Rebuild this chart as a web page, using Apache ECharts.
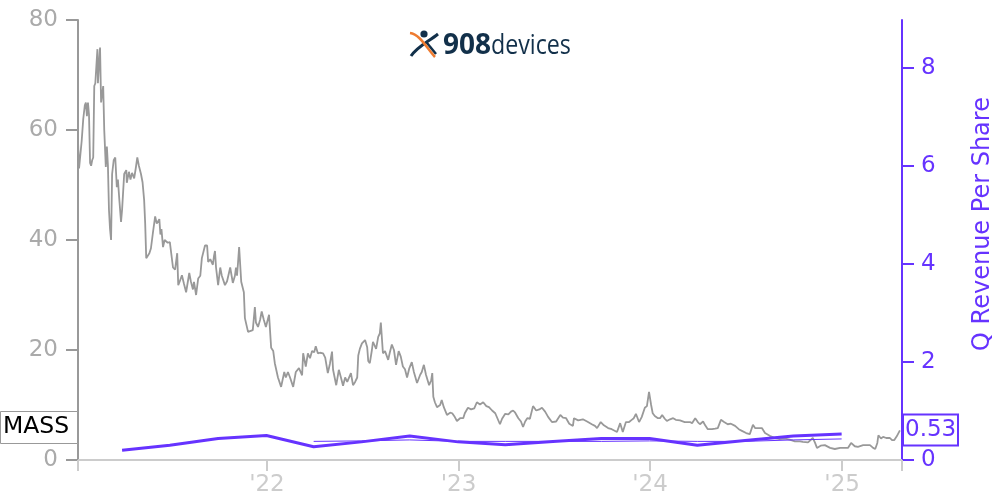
<!DOCTYPE html>
<html>
<head>
<meta charset="utf-8">
<title>MASS</title>
<script src="https://cdn.jsdelivr.net/npm/echarts@6/dist/echarts.min.js"></script>
<style>
  html, body { margin: 0; background: #fff; }
  #chart { width: 1000px; height: 500px; }
</style>
</head>
<body>
<div id="chart"></div>
<script>
const priceDays = [5,7,9,12,15,18,20,22,24,26,28,30,32,34,36,38,41,42,43,45,47,49,53,55,58,60,62,64,66,68,70,73,76,79,81,84,87,89,93,97,98,102,105,108,112,115,118,121,125,128,131,133,135,138,141,144,148,152,155,158,160,162,164,165,167,170,173,176,180,182,186,190,194,196,199,203,207,211,217,220,224,226,230,234,238,241,247,251,253,257,262,264,266,268,272,276,279,285,289,295,300,304,306,308,310,312,316,321,323,329,338,342,344,348,352,355,359,363,369,373,377,380,386,392,398,401,405,409,415,420,426,432,434,439,443,447,451,455,458,462,466,472,476,481,485,489,491,497,502,506,510,514,518,521,525,529,533,537,539,542,546,552,556,558,561,565,567,573,577,580,582,586,590,596,599,603,607,611,616,620,624,628,632,636,641,645,651,657,660,664,668,674,678,680,682,685,689,695,698,702,708,714,718,723,727,733,739,742,748,754,760,765,771,777,783,788,794,800,803,809,813,819,825,830,834,838,844,849,853,857,861,866,872,878,884,889,895,901,908,916,924,929,935,941,948,950,958,967,975,984,990,994,1001,1007,1015,1022,1032,1038,1043,1049,1055,1060,1064,1068,1074,1079,1085,1089,1093,1097,1100,1104,1110,1114,1118,1123,1127,1133,1139,1144,1152,1161,1171,1175,1181,1183,1186,1190,1196,1200,1205,1213,1219,1224,1230,1236,1243,1249,1257,1264,1270,1278,1285,1291,1295,1300,1308,1314,1323,1333,1342,1352,1361,1371,1381,1386,1396,1405,1409,1411,1413,1420,1428,1438,1447,1457,1466,1472,1478,1485,1491,1501,1514,1520,1524,1528,1530,1535,1539,1545,1552,1556,1560,1565,1571];
const priceValues = [58,53,55,58,62,64.5,65,62.5,65,62.7,54,53.5,54.5,55,68,68.5,68.7,74.7,68.5,72,75,65,68,60,53.3,57,53.6,45.5,42,40,52,54.5,55,49.6,51,47,43.3,45.5,52,52.7,50.4,52.4,51,52.2,51.2,53,55,53.5,52,50.5,47.3,43,36.7,37,37.6,38.5,41.5,44.3,43,42.7,43.8,41,42,42.2,38.7,40,40,39.5,39.6,39.5,35,34.6,37.6,31.8,32.5,33.6,32,30.5,34,32.5,31,32.4,30,33,33.5,36.7,39,39,36,36.5,35.5,37,38,35,31.8,35,33.5,31.8,32.5,35,32.2,33.5,35,33.5,36,38.7,32.4,30.5,25.8,23.3,23.6,27.8,25,24.2,25.5,27,25.5,24.2,26.4,20.4,19.8,17.6,15,13.3,16,15,16,15,13.3,16,16.7,15.4,19.4,17,19.4,18.5,19.8,19.6,20.7,19.4,19.5,19.4,18.6,15.8,17.5,19.7,16.4,13.6,16.4,15,13.5,15,14.2,13.9,15.8,13.6,14.2,15,19,20.2,21.2,21.8,20.5,18,17.6,20,21.5,20.2,22.4,23,25,19.4,19.8,18.2,19.5,21,20,17.3,19.8,18.8,17,16.5,15,16.6,17.8,16,14,15.5,16,17.3,15.5,13.6,14.5,15.8,11.5,10.5,9.6,10,10.9,9.6,8.2,8.6,8.5,7.8,7.1,7.6,7.6,8.5,9.5,9.2,9.4,10.5,10.1,10.5,9.8,9.6,9,8.5,8.4,6.5,7.5,8.4,8.3,8.8,9,8.6,7.6,7,6,7,7.6,7.5,9.8,9,9.2,9.5,8.8,7.8,6.9,7,8.2,7.7,7.6,6.6,6.2,7.6,7.2,7.4,7,6.5,6.2,5.8,6.9,6.3,5.8,5.6,5.1,6.7,5.1,6.9,6.9,7.3,7.6,8.4,6.9,7.8,9.5,9.8,12.4,10,8.5,8,7.6,7.6,8.2,7.5,7.1,7.4,7.6,7.3,7.2,6.9,6.9,6.7,7.6,7.8,6.9,6.5,7,6.3,5.6,5.6,5.7,5.8,7.3,6.9,6.5,6.6,6.2,5.6,5.3,4.9,4.7,6.4,5.8,5.8,5.8,4.9,4.4,4,3.8,3.9,3.7,3.4,3.4,3.3,3.2,4,3.2,3.1,2.2,2.6,2.7,2.2,2,2.2,2.2,2.2,3.1,2.5,2.4,2.7,2.7,2.2,2,3.1,4.5,3.9,4.2,4,4,3.6,3.6,4.3,5.4];

const quarterEnds = ['2021-03-31','2021-06-30','2021-09-30','2021-12-31','2022-03-31','2022-06-30','2022-09-30','2022-12-31','2023-03-31','2023-06-30','2023-09-30','2023-12-31','2024-03-31','2024-06-30','2024-09-30','2024-12-31'];
const revenuePerShare = [0.2,0.3,0.44,0.5,0.27,0.37,0.49,0.37,0.31,0.38,0.44,0.44,0.3,0.4,0.49,0.53];
const averageEnds = quarterEnds.slice(4);
const averagePerShare = [0.38,0.39,0.41,0.38,0.38,0.38,0.38,0.39,0.38,0.38,0.41,0.43];

const yearTicks = ['2022-01-01','2023-01-01','2024-01-01','2025-01-01'];

const ms = (s) => Date.parse(s + 'T00:00:00Z');
const axisMin = ms('2021-01-06');
const axisMax = ms('2025-04-25');
const dayMs = 86400000;
const baseDay = ms('2021-01-01');

const GREY = '#999999';
const LIGHT = '#cccccc';
const PURPLE = '#6633ff';
const FONT = '"DejaVu Sans", sans-serif';
const NAVY = '#12304a';
const ORANGE = '#ee7b30';

const chart = echarts.init(document.getElementById('chart'));

chart.setOption({
  animation: false,
  backgroundColor: '#fff',
  textStyle: { fontFamily: FONT },
  grid: { left: 78, right: 98, top: 20, bottom: 40, outerBoundsMode: 'none' },
  xAxis: {
    type: 'value',
    min: axisMin,
    max: axisMax,
    splitLine: { show: false },
    axisLine: { lineStyle: { color: LIGHT, width: 2 } },
    axisTick: {
      length: 11,
      lineStyle: { color: LIGHT, width: 2 },
      customValues: [axisMin, ...yearTicks.map(ms), axisMax],
    },
    axisLabel: {
      customValues: yearTicks.map(ms),
      color: LIGHT,
      fontSize: 23,
      fontFamily: FONT,
      margin: 14,
      showMinLabel: true,
      showMaxLabel: true,
      formatter: (v) => "'" + String(new Date(v).getUTCFullYear()).slice(2),
    },
  },
  yAxis: [
    {
      type: 'value',
      min: 0,
      max: 80,
      interval: 20,
      splitLine: { show: false },
      axisLine: { show: true, lineStyle: { color: GREY, width: 2 } },
      axisTick: { show: true, length: 12, lineStyle: { color: GREY, width: 2 } },
      axisLabel: { color: '#aaaaaa', fontSize: 23, fontFamily: FONT, margin: 20 },
    },
    {
      type: 'value',
      position: 'right',
      min: 0,
      max: 8.98,
      interval: 2,
      splitLine: { show: false },
      axisLine: { show: true, lineStyle: { color: PURPLE, width: 2 } },
      axisTick: { show: true, length: 12, lineStyle: { color: PURPLE, width: 2 } },
      axisLabel: { color: PURPLE, fontSize: 23, fontFamily: FONT, margin: 19, showMaxLabel: false },
      name: 'Q Revenue Per Share',
      nameLocation: 'middle',
      nameGap: 69,
      nameRotate: 90,
      nameTextStyle: { color: PURPLE, fontSize: 24, fontFamily: FONT, padding: [0, 0, 0, 32] },
    },
  ],
  series: [
    {
      name: 'MASS',
      type: 'line',
      yAxisIndex: 0,
      showSymbol: false,
      lineStyle: { color: GREY, width: 1.8 },
      data: priceDays.map((d, i) => [baseDay + d * dayMs, priceValues[i]]),
    },
    {
      name: 'Average',
      type: 'line',
      yAxisIndex: 1,
      showSymbol: false,
      lineStyle: { color: PURPLE, width: 1 },
      data: averageEnds.map((d, i) => [ms(d), averagePerShare[i]]),
    },
    {
      name: 'Q Revenue Per Share',
      type: 'line',
      yAxisIndex: 1,
      showSymbol: false,
      lineStyle: { color: PURPLE, width: 3 },
      data: quarterEnds.map((d, i) => [ms(d), revenuePerShare[i]]),
    },
  ],
  graphic: [
    // end labels
    { type: 'rect', z: 50, shape: { x: 0.5, y: 411.5, width: 77, height: 32 }, style: { fill: '#fff', stroke: GREY, lineWidth: 1 } },
    { type: 'text', z: 51, x: 3, y: 427, style: { text: 'MASS', fill: '#000', font: '23.5px ' + FONT, verticalAlign: 'middle' } },
    { type: 'rect', z: 50, shape: { x: 903, y: 414.5, width: 55, height: 31 }, style: { fill: '#fff', stroke: PURPLE, lineWidth: 2 } },
    { type: 'text', z: 51, x: 905, y: 430, style: { text: '0.53', fill: PURPLE, font: '23px ' + FONT, verticalAlign: 'middle' } },
    // logo
    { type: 'circle', z: 40, shape: { cx: 424, cy: 34, r: 3.6 }, style: { fill: NAVY } },
    { type: 'bezierCurve', z: 40, shape: { x1: 411, y1: 56, x2: 438, y2: 34, cpx1: 418, cpy1: 46, cpx2: 428, cpy2: 42 }, style: { stroke: NAVY, lineWidth: 3, fill: 'none' } },
    { type: 'bezierCurve', z: 41, shape: { x1: 410, y1: 33, x2: 435, y2: 57, cpx1: 420, cpy1: 34, cpx2: 428, cpy2: 50 }, style: { stroke: ORANGE, lineWidth: 2.5, fill: 'none' } },
    { type: 'line', z: 40, shape: { x1: 427, y1: 43, x2: 436, y2: 54 }, style: { stroke: NAVY, lineWidth: 2.5 } },
    { type: 'text', z: 40, x: 443, y: 46, style: { text: '908', fill: NAVY, font: 'bold 28px "Open Sans", sans-serif', verticalAlign: 'middle' } },
    { type: 'text', z: 40, x: 491, y: 46, scaleX: 0.86, style: { text: 'devices', fill: NAVY, font: '27px "Open Sans", sans-serif', verticalAlign: 'middle' } },
  ],
});
</script>
</body>
</html>
